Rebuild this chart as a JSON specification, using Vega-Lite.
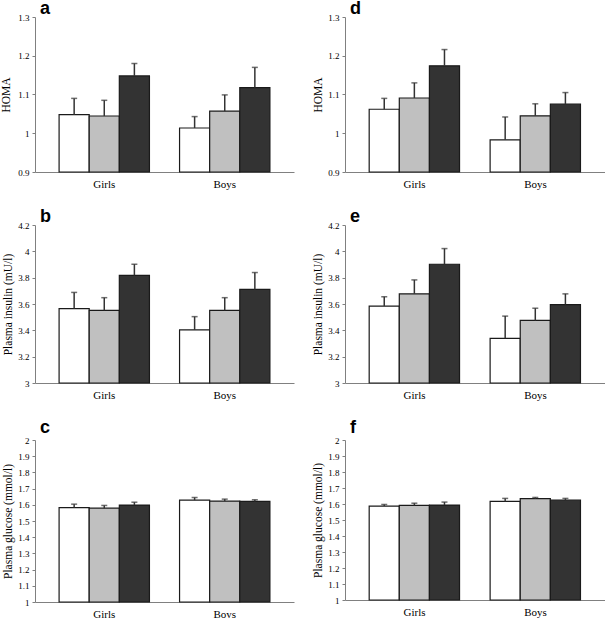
{
  "$schema": "https://vega.github.io/schema/vega-lite/v6.json",
  "padding": {"left": 0, "top": 0, "right": 0, "bottom": 0},
  "background": "white",
  "datasets": {
    "d": [
      {"panel": "a", "sex": "Girls", "grp": "1", "value": 1.048, "upper": 1.090},
      {"panel": "a", "sex": "Girls", "grp": "2", "value": 1.0445, "upper": 1.085},
      {"panel": "a", "sex": "Girls", "grp": "3", "value": 1.148, "upper": 1.180},
      {"panel": "a", "sex": "Boys", "grp": "1", "value": 1.0135, "upper": 1.043},
      {"panel": "a", "sex": "Boys", "grp": "2", "value": 1.057, "upper": 1.099},
      {"panel": "a", "sex": "Boys", "grp": "3", "value": 1.118, "upper": 1.170},
      {"panel": "d", "sex": "Girls", "grp": "1", "value": 1.062, "upper": 1.090},
      {"panel": "d", "sex": "Girls", "grp": "2", "value": 1.091, "upper": 1.130},
      {"panel": "d", "sex": "Girls", "grp": "3", "value": 1.174, "upper": 1.216},
      {"panel": "d", "sex": "Boys", "grp": "1", "value": 0.983, "upper": 1.042},
      {"panel": "d", "sex": "Boys", "grp": "2", "value": 1.045, "upper": 1.076},
      {"panel": "d", "sex": "Boys", "grp": "3", "value": 1.075, "upper": 1.105},
      {"panel": "b", "sex": "Girls", "grp": "1", "value": 3.565, "upper": 3.688},
      {"panel": "b", "sex": "Girls", "grp": "2", "value": 3.552, "upper": 3.648},
      {"panel": "b", "sex": "Girls", "grp": "3", "value": 3.817, "upper": 3.902},
      {"panel": "b", "sex": "Boys", "grp": "1", "value": 3.403, "upper": 3.504},
      {"panel": "b", "sex": "Boys", "grp": "2", "value": 3.552, "upper": 3.648},
      {"panel": "b", "sex": "Boys", "grp": "3", "value": 3.711, "upper": 3.839},
      {"panel": "e", "sex": "Girls", "grp": "1", "value": 3.584, "upper": 3.655},
      {"panel": "e", "sex": "Girls", "grp": "2", "value": 3.677, "upper": 3.783},
      {"panel": "e", "sex": "Girls", "grp": "3", "value": 3.902, "upper": 4.021},
      {"panel": "e", "sex": "Boys", "grp": "1", "value": 3.339, "upper": 3.508},
      {"panel": "e", "sex": "Boys", "grp": "2", "value": 3.475, "upper": 3.568},
      {"panel": "e", "sex": "Boys", "grp": "3", "value": 3.596, "upper": 3.677},
      {"panel": "c", "sex": "Girls", "grp": "1", "value": 1.583, "upper": 1.604},
      {"panel": "c", "sex": "Girls", "grp": "2", "value": 1.579, "upper": 1.596},
      {"panel": "c", "sex": "Girls", "grp": "3", "value": 1.598, "upper": 1.616},
      {"panel": "c", "sex": "Boys", "grp": "1", "value": 1.629, "upper": 1.645},
      {"panel": "c", "sex": "Boys", "grp": "2", "value": 1.623, "upper": 1.635},
      {"panel": "c", "sex": "Boys", "grp": "3", "value": 1.621, "upper": 1.631},
      {"panel": "f", "sex": "Girls", "grp": "1", "value": 1.587, "upper": 1.597},
      {"panel": "f", "sex": "Girls", "grp": "2", "value": 1.591, "upper": 1.605},
      {"panel": "f", "sex": "Girls", "grp": "3", "value": 1.593, "upper": 1.612},
      {"panel": "f", "sex": "Boys", "grp": "1", "value": 1.616, "upper": 1.635},
      {"panel": "f", "sex": "Boys", "grp": "2", "value": 1.633, "upper": 1.641},
      {"panel": "f", "sex": "Boys", "grp": "3", "value": 1.624, "upper": 1.635}
    ]
  },
  "columns": 2,
  "align": "each",
  "spacing": {"row": 19, "column": 18},
  "concat": [
    {
      "width": 259, "height": 155,
      "title": {"text": "a", "offset": -5},
      "data": {"name": "d"},
      "transform": [{"filter": "datum.panel == 'a'"}],
      "encoding": {
        "x": {"field": "sex", "type": "nominal", "sort": ["Girls", "Boys"], "scale": {"paddingInner": 0.25, "paddingOuter": 0.2}, "axis": {"title": null, "labelFont": "Liberation Serif", "labelFontWeight": "normal"}},
        "xOffset": {"field": "grp", "type": "nominal", "scale": {"paddingInner": 0, "paddingOuter": 0}},
        "y": {"field": "value", "type": "quantitative", "scale": {"domain": [0.9, 1.3], "zero": false, "nice": false}, "axis": {"title": "HOMA", "values": [0.9, 1, 1.1, 1.2, 1.3], "format": "~g", "titlePadding": 6, "labelOverlap": false}}
      },
      "layer": [
        {"mark": {"type": "bar", "stroke": "#1a1a1a", "strokeWidth": 1.2},
         "encoding": {
           "y2": {"datum": 0.9},
           "color": {"field": "grp", "type": "nominal", "scale": {"range": ["#ffffff", "#c0c0c0", "#333333"]}, "legend": null}}},
        {"mark": {"type": "rule", "color": "#333333", "strokeWidth": 1.5}, "encoding": {"y2": {"field": "upper"}}},
        {"mark": {"type": "tick", "color": "#333333", "size": 6, "thickness": 1.5, "orient": "horizontal"}, "encoding": {"y": {"field": "upper", "type": "quantitative"}}}
      ]
    },
    {
      "width": 260, "height": 155,
      "title": {"text": "d", "offset": -5},
      "data": {"name": "d"},
      "transform": [{"filter": "datum.panel == 'd'"}],
      "encoding": {
        "x": {"field": "sex", "type": "nominal", "sort": ["Girls", "Boys"], "scale": {"paddingInner": 0.25, "paddingOuter": 0.2}, "axis": {"title": null, "labelFont": "Liberation Serif", "labelFontWeight": "normal"}},
        "xOffset": {"field": "grp", "type": "nominal", "scale": {"paddingInner": 0, "paddingOuter": 0}},
        "y": {"field": "value", "type": "quantitative", "scale": {"domain": [0.9, 1.3], "zero": false, "nice": false}, "axis": {"title": "HOMA", "values": [0.9, 1, 1.1, 1.2, 1.3], "format": "~g", "labelOverlap": false}}
      },
      "layer": [
        {"mark": {"type": "bar", "stroke": "#1a1a1a", "strokeWidth": 1.2},
         "encoding": {
           "y2": {"datum": 0.9},
           "color": {"field": "grp", "type": "nominal", "scale": {"range": ["#ffffff", "#c0c0c0", "#333333"]}, "legend": null}}},
        {"mark": {"type": "rule", "color": "#333333", "strokeWidth": 1.5}, "encoding": {"y2": {"field": "upper"}}},
        {"mark": {"type": "tick", "color": "#333333", "size": 6, "thickness": 1.5, "orient": "horizontal"}, "encoding": {"y": {"field": "upper", "type": "quantitative"}}}
      ]
    },
    {
      "width": 259, "height": 158,
      "title": {"text": "b", "offset": -5},
      "data": {"name": "d"},
      "transform": [{"filter": "datum.panel == 'b'"}],
      "encoding": {
        "x": {"field": "sex", "type": "nominal", "sort": ["Girls", "Boys"], "scale": {"paddingInner": 0.25, "paddingOuter": 0.2}, "axis": {"title": null, "labelFont": "Liberation Serif", "labelFontWeight": "normal"}},
        "xOffset": {"field": "grp", "type": "nominal", "scale": {"paddingInner": 0, "paddingOuter": 0}},
        "y": {"field": "value", "type": "quantitative", "scale": {"domain": [3, 4.2], "zero": false, "nice": false}, "axis": {"title": "Plasma insulin (mU/l)", "values": [3, 3.2, 3.4, 3.6, 3.8, 4, 4.2], "format": "~g", "labelOverlap": false}}
      },
      "layer": [
        {"mark": {"type": "bar", "stroke": "#1a1a1a", "strokeWidth": 1.2},
         "encoding": {
           "y2": {"datum": 3},
           "color": {"field": "grp", "type": "nominal", "scale": {"range": ["#ffffff", "#c0c0c0", "#333333"]}, "legend": null}}},
        {"mark": {"type": "rule", "color": "#333333", "strokeWidth": 1.5}, "encoding": {"y2": {"field": "upper"}}},
        {"mark": {"type": "tick", "color": "#333333", "size": 6, "thickness": 1.5, "orient": "horizontal"}, "encoding": {"y": {"field": "upper", "type": "quantitative"}}}
      ]
    },
    {
      "width": 260, "height": 158,
      "title": {"text": "e", "offset": -5},
      "data": {"name": "d"},
      "transform": [{"filter": "datum.panel == 'e'"}],
      "encoding": {
        "x": {"field": "sex", "type": "nominal", "sort": ["Girls", "Boys"], "scale": {"paddingInner": 0.25, "paddingOuter": 0.2}, "axis": {"title": null, "labelFont": "Liberation Serif", "labelFontWeight": "normal"}},
        "xOffset": {"field": "grp", "type": "nominal", "scale": {"paddingInner": 0, "paddingOuter": 0}},
        "y": {"field": "value", "type": "quantitative", "scale": {"domain": [3, 4.2], "zero": false, "nice": false}, "axis": {"title": "Plasma insulin (mU/l)", "values": [3, 3.2, 3.4, 3.6, 3.8, 4, 4.2], "format": "~g", "labelOverlap": false}}
      },
      "layer": [
        {"mark": {"type": "bar", "stroke": "#1a1a1a", "strokeWidth": 1.2},
         "encoding": {
           "y2": {"datum": 3},
           "color": {"field": "grp", "type": "nominal", "scale": {"range": ["#ffffff", "#c0c0c0", "#333333"]}, "legend": null}}},
        {"mark": {"type": "rule", "color": "#333333", "strokeWidth": 1.5}, "encoding": {"y2": {"field": "upper"}}},
        {"mark": {"type": "tick", "color": "#333333", "size": 6, "thickness": 1.5, "orient": "horizontal"}, "encoding": {"y": {"field": "upper", "type": "quantitative"}}}
      ]
    },
    {
      "width": 259, "height": 162,
      "title": {"text": "c", "offset": -1},
      "data": {"name": "d"},
      "transform": [{"filter": "datum.panel == 'c'"}],
      "encoding": {
        "x": {"field": "sex", "type": "nominal", "sort": ["Girls", "Boys"], "scale": {"paddingInner": 0.25, "paddingOuter": 0.2}, "axis": {"title": null, "labelFont": "Liberation Serif", "labelFontWeight": "normal"}},
        "xOffset": {"field": "grp", "type": "nominal", "scale": {"paddingInner": 0, "paddingOuter": 0}},
        "y": {"field": "value", "type": "quantitative", "scale": {"domain": [1, 2], "zero": false, "nice": false}, "axis": {"title": "Plasma glucose (mmol/l)", "values": [1, 1.1, 1.2, 1.3, 1.4, 1.5, 1.6, 1.7, 1.8, 1.9, 2], "format": "~g", "labelOverlap": false}}
      },
      "layer": [
        {"mark": {"type": "bar", "stroke": "#1a1a1a", "strokeWidth": 1.2},
         "encoding": {
           "y2": {"datum": 1},
           "color": {"field": "grp", "type": "nominal", "scale": {"range": ["#ffffff", "#c0c0c0", "#333333"]}, "legend": null}}},
        {"mark": {"type": "rule", "color": "#333333", "strokeWidth": 1.5}, "encoding": {"y2": {"field": "upper"}}},
        {"mark": {"type": "tick", "color": "#333333", "size": 6, "thickness": 1.5, "orient": "horizontal"}, "encoding": {"y": {"field": "upper", "type": "quantitative"}}}
      ]
    },
    {
      "width": 260, "height": 160,
      "title": {"text": "f", "offset": -1},
      "data": {"name": "d"},
      "transform": [{"filter": "datum.panel == 'f'"}],
      "encoding": {
        "x": {"field": "sex", "type": "nominal", "sort": ["Girls", "Boys"], "scale": {"paddingInner": 0.25, "paddingOuter": 0.2}, "axis": {"title": null, "labelFont": "Liberation Serif", "labelFontWeight": "normal"}},
        "xOffset": {"field": "grp", "type": "nominal", "scale": {"paddingInner": 0, "paddingOuter": 0}},
        "y": {"field": "value", "type": "quantitative", "scale": {"domain": [1, 2], "zero": false, "nice": false}, "axis": {"title": "Plasma glucose (mmol/l)", "values": [1, 1.1, 1.2, 1.3, 1.4, 1.5, 1.6, 1.7, 1.8, 1.9, 2], "format": "~g", "labelOverlap": false}}
      },
      "layer": [
        {"mark": {"type": "bar", "stroke": "#1a1a1a", "strokeWidth": 1.2},
         "encoding": {
           "y2": {"datum": 1},
           "color": {"field": "grp", "type": "nominal", "scale": {"range": ["#ffffff", "#c0c0c0", "#333333"]}, "legend": null}}},
        {"mark": {"type": "rule", "color": "#333333", "strokeWidth": 1.5}, "encoding": {"y2": {"field": "upper"}}},
        {"mark": {"type": "tick", "color": "#333333", "size": 6, "thickness": 1.5, "orient": "horizontal"}, "encoding": {"y": {"field": "upper", "type": "quantitative"}}}
      ]
    }
  ],
  "config": {
    "view": {"stroke": null},
    "title": {"font": "Liberation Sans", "fontSize": 18, "fontWeight": "bold", "anchor": "start", "frame": "group", "dx": 5, "color": "#000000"},
    "axis": {"labelFont": "Liberation Serif", "titleFont": "Liberation Serif", "labelFontSize": 9, "titleFontSize": 11.5, "titleFontWeight": "normal", "labelFontWeight": "normal", "domainColor": "#808080", "tickColor": "#808080", "labelColor": "#000000", "titleColor": "#000000", "grid": false, "labelOverlap": false},
    "axisY": {"tickSize": 3, "labelPadding": 3, "titlePadding": 4, "labelOverlap": false},
    "axisX": {"ticks": false, "tickSize": 0, "labelFontSize": 11, "labelPadding": 6, "labelAngle": 0}
  }
}
